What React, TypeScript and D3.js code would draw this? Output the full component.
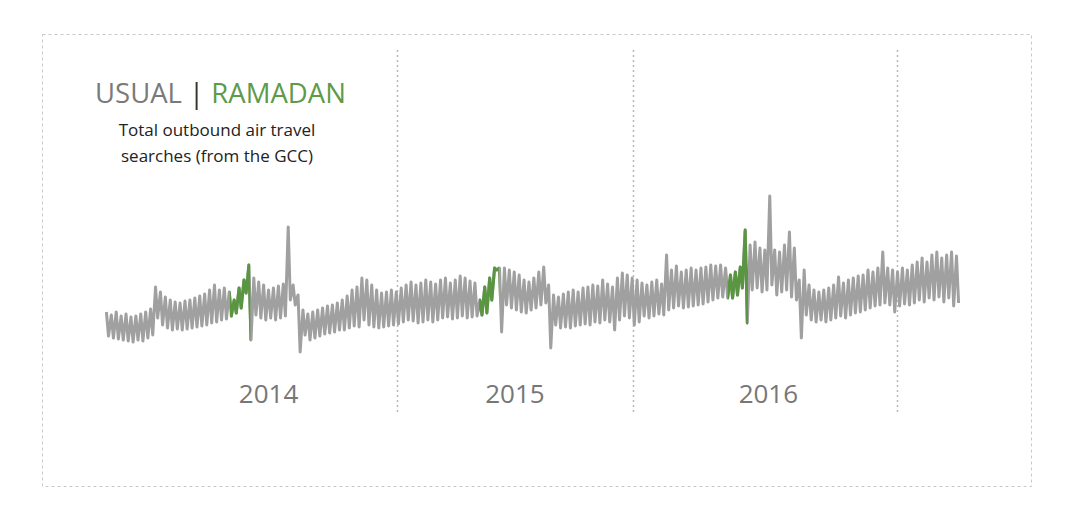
import React from "react";
import * as d3 from "d3";

// Weekly peak and dip values (thousands of searches, index units), first week starting 2014-01-01
const weeklyPeak = [
  48, 45, 48, 44, 46, 43, 44, 46, 48, 51,
  73, 68, 63, 60, 58, 57, 59, 60, 62, 64,
  66, 70, 75, 70, 72, 68, 60, 72, 80, 95,
  82, 78, 75, 70, 72, 74, 76, 133, 75, 65,
  50, 46, 48, 50, 52, 54, 55, 57, 60, 64,
  70, 73, 82, 80, 75, 70, 67, 68, 70, 68,
  72, 75, 78, 75, 77, 80, 78, 76, 80, 82,
  77, 80, 84, 82, 79, 77, 60, 73, 82, 92,
  92, 92, 90, 88, 85, 80, 78, 82, 88, 93,
  75, 65, 63, 66, 68, 70, 68, 72, 73, 75,
  74, 80, 76, 73, 82, 87, 85, 82, 80, 77,
  75, 78, 80, 76, 105, 90, 94, 88, 90, 92,
  90, 92, 93, 95, 94, 95, 92, 85, 88, 93,
  130, 115, 118, 112, 110, 164, 110, 108, 115, 128,
  112, 80, 90, 75, 70, 68, 70, 72, 75, 83,
  77, 80, 82, 84, 85, 90, 88, 92, 108, 92,
  90, 88, 92, 90, 95, 98, 102, 98, 105, 108,
  102, 105, 108, 104,
];

const weeklyDip = [
  24, 22, 21, 20, 19, 18, 20, 19, 22, 25,
  42, 35, 32, 30, 31, 30, 31, 32, 33, 34,
  35, 37, 38, 40, 41, 44, 47, 52, 67, 20,
  45, 42, 40, 42, 40, 42, 44, 60, 55, 8,
  25, 20, 22, 24, 26, 27, 28, 30, 30, 32,
  34, 33, 40, 35, 33, 32, 33, 34, 35, 36,
  38, 40, 39, 37, 38, 40, 38, 40, 42, 43,
  41, 42, 44, 42, 43, 44, 45, 47, 60, 90,
  28, 55, 52, 50, 48, 47, 50, 52, 55, 57,
  12, 35, 32, 33, 32, 34, 35, 36, 35, 38,
  37, 40, 38, 30, 40, 44, 42, 35, 38, 44,
  42, 44, 46, 45, 50, 52, 54, 52, 53, 54,
  55, 56, 58, 60, 62, 63, 62, 62, 65, 72,
  37, 70, 72, 68, 70, 75, 65, 68, 70, 63,
  60, 22, 45, 40, 38, 40, 38, 40, 42, 44,
  42, 45, 47, 48, 50, 52, 54, 55, 57, 55,
  48, 54, 56, 55, 57, 60, 58, 62, 60, 63,
  58, 62, 54, 57,
];

const seriesStart = "2014-01-01";
const seriesEnd = "2017-05-03";

const ramadanStarts = ["2014-06-28", "2015-06-18", "2016-06-06"];
const ramadanEnds = ["2014-07-27", "2015-07-16", "2016-07-05"];

const dividerDates = ["2015-02-21", "2016-01-23", "2017-02-02"];
const yearLabels = ["2014", "2015", "2016"];
const yearLabelDates = ["2014-08-22", "2015-08-08", "2016-08-03"];

const titleUsual = "USUAL";
const titleSep = "|";
const titleRamadan = "RAMADAN";
const subtitleLines = ["Total outbound air travel", "searches (from the GCC)"];

const W = 1074;
const H = 528;
const FONT = "'Open Sans', 'Noto Sans', sans-serif";
const GREY_LINE = "#a0a0a0";
const GREEN = "#5a9642";

const parse = d3.utcParse("%Y-%m-%d");

export default function App() {
  const start = parse(seriesStart)!;
  const end = parse(seriesEnd)!;

  const x = d3.scaleUtc().domain([start, end]).range([105, 960]);
  const y = d3.scaleLinear().domain([0, 200]).range([360, 160]);

  const points: { date: Date; v: number }[] = [];
  weeklyPeak.forEach((p, i) => {
    points.push({ date: d3.utcDay.offset(start, 7 * i + 2), v: p });
    points.push({ date: d3.utcDay.offset(start, 7 * i + 5), v: weeklyDip[i] });
  });

  const line = d3
    .line<{ date: Date; v: number }>()
    .x((d) => x(d.date))
    .y((d) => y(d.v));
  const pathD = line(points) || "";

  return (
    <svg
      width={W}
      height={H}
      style={{ position: "absolute", left: 0, top: 0, display: "block", background: "#fff" }}
    >
      <defs>
        {ramadanStarts.map((s, i) => {
          const x0 = x(parse(s)!);
          const x1 = x(parse(ramadanEnds[i])!);
          return (
            <clipPath id={`ram${i}`} key={i}>
              <rect x={x0} y={0} width={x1 - x0} height={H} />
            </clipPath>
          );
        })}
      </defs>
      <rect
        x={42.5}
        y={34.5}
        width={989}
        height={452}
        fill="none"
        stroke="#c8c8c8"
        strokeWidth={1}
        strokeDasharray="3,3"
      />
      {dividerDates.map((d, i) => {
        const xx = Math.round(x(parse(d)!)) + 0.5;
        return (
          <line
            key={i}
            x1={xx}
            x2={xx}
            y1={50}
            y2={414}
            stroke="#b8b8b8"
            strokeWidth={1.5}
            strokeDasharray="2,3"
          />
        );
      })}
      <path d={pathD} fill="none" stroke={GREY_LINE} strokeWidth={3} strokeLinejoin="round" />
      {ramadanStarts.map((s, i) => (
        <path
          key={i}
          d={pathD}
          fill="none"
          stroke={GREEN}
          strokeWidth={3}
          strokeLinejoin="round"
          clipPath={`url(#ram${i})`}
        />
      ))}
      {yearLabels.map((t, i) => (
        <text
          key={t}
          x={x(parse(yearLabelDates[i])!)}
          y={403}
          textAnchor="middle"
          fontFamily={FONT}
          fontSize={26}
          fill="#777"
        >
          {t}
        </text>
      ))}
      <text x={95} y={103} fontFamily={FONT} fontSize={27.5}>
        <tspan fill="#7a7a7a">{titleUsual}</tspan>
        <tspan fill="#333"> {titleSep} </tspan>
        <tspan fill="#5e9a48">{titleRamadan}</tspan>
      </text>
      {subtitleLines.map((t, i) => (
        <text
          key={i}
          x={217}
          y={136 + i * 26}
          textAnchor="middle"
          fontFamily={FONT}
          fontSize={17}
          fill="#222"
        >
          {t}
        </text>
      ))}
    </svg>
  );
}
